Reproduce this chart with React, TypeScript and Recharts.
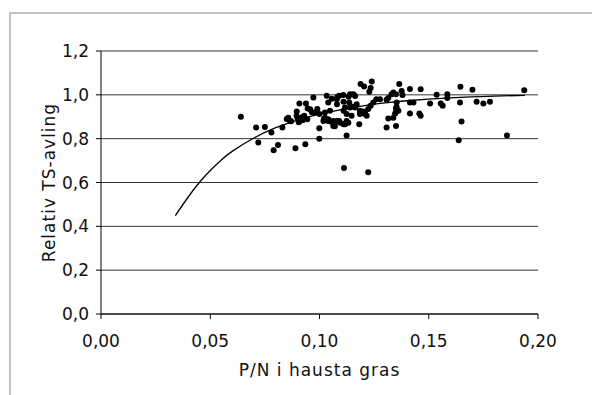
import React from 'react';
import {
  ComposedChart,
  Scatter,
  Line,
  XAxis,
  YAxis,
  CartesianGrid,
} from 'recharts';

// P/N ratio in harvested grass (x) and relative DM yield (y)
const pnRatio = [
  0.064, 0.071, 0.072, 0.075, 0.078, 0.079, 0.081, 0.083, 0.0857, 0.0865,
  0.085, 0.089, 0.0896, 0.087, 0.0908, 0.0938, 0.09, 0.091, 0.092, 0.0905,
  0.0935, 0.0944, 0.0946, 0.0957, 0.0972, 0.098, 0.0999, 0.0999, 0.1, 0.093,
  0.1018, 0.102, 0.1025, 0.1033, 0.104, 0.104, 0.1048, 0.105, 0.1056, 0.1063,
  0.107, 0.1079, 0.108, 0.1082, 0.109, 0.109, 0.1094, 0.1109, 0.111, 0.111,
  0.111, 0.1112, 0.1124, 0.1124, 0.1133, 0.1136, 0.1147, 0.1147, 0.1155, 0.117,
  0.1182, 0.1185, 0.1188, 0.1204, 0.1208, 0.1216, 0.1223, 0.1223, 0.1228, 0.1234,
  0.1234, 0.1239, 0.1246, 0.1079, 0.114, 0.1163, 0.1117, 0.114, 0.1163, 0.1063,
  0.1117, 0.1132, 0.1124, 0.1185, 0.12, 0.126, 0.1277, 0.1307, 0.1315, 0.133,
  0.1338, 0.135, 0.1338, 0.1315, 0.1307, 0.1353, 0.1361, 0.1346, 0.135, 0.1365,
  0.1376, 0.135, 0.138, 0.1353, 0.135, 0.1414, 0.1414, 0.143, 0.1414, 0.1457,
  0.1463, 0.1463, 0.1506, 0.1536, 0.1555, 0.1564, 0.1585, 0.1585, 0.1645, 0.1643,
  0.165, 0.1637, 0.17, 0.1719, 0.175, 0.178, 0.1858, 0.1937, 0.1208, 0.0915,
  0.0925, 0.0895, 0.0965, 0.099, 0.1025, 0.104,
];

const relYield = [
  0.9, 0.851, 0.783, 0.853, 0.828, 0.747, 0.771, 0.851, 0.896, 0.881,
  0.89, 0.756, 0.924, 0.88, 0.961, 0.961, 0.893, 0.881, 0.898, 0.875,
  0.774, 0.889, 0.938, 0.934, 0.988, 0.919, 0.8, 0.847, 0.912, 0.905,
  0.881, 0.89, 0.896, 0.996, 0.889, 0.881, 0.927, 0.878, 0.982, 0.858,
  0.857, 0.881, 0.957, 0.991, 0.996, 0.881, 0.873, 0.999, 0.968, 0.927,
  0.866, 0.666, 0.815, 0.881, 0.991, 0.965, 0.947, 0.904, 1.003, 0.957,
  0.866, 0.927, 1.049, 1.038, 0.919, 0.904, 0.935, 0.647, 1.014, 1.031,
  0.95, 1.061, 0.965, 0.98, 1.003, 0.995, 0.942, 0.942, 0.942, 0.881,
  0.866, 0.873, 0.912, 0.912, 0.924, 0.98, 0.98, 0.977, 0.985, 1.003,
  1.011, 0.922, 0.896, 0.892, 0.851, 0.945, 0.927, 0.915, 0.858, 1.049,
  1.018, 1.003, 0.999, 0.965, 0.939, 1.027, 0.965, 0.965, 0.915, 0.915,
  0.904, 1.026, 0.961, 1.0, 0.961, 0.95, 1.003, 0.985, 1.037, 0.965,
  0.878, 0.793, 1.023, 0.968, 0.961, 0.968, 0.815, 1.021, 0.912, 0.89,
  0.885, 0.905, 0.92, 0.935, 0.919, 0.965,
];

// fitted curve
const curvePn = [0.034, 0.04, 0.045, 0.05, 0.055, 0.06, 0.07, 0.08, 0.09, 0.1, 0.11, 0.12, 0.13, 0.14, 0.16, 0.18, 0.194];
const curveYield = [0.449, 0.535, 0.6, 0.655, 0.702, 0.742, 0.803, 0.85, 0.885, 0.912, 0.933, 0.95, 0.963, 0.973, 0.986, 0.994, 0.998];

const xTicks = [0, 0.05, 0.1, 0.15, 0.2];
const yTicks = [0, 0.2, 0.4, 0.6, 0.8, 1.0, 1.2];

const points = pnRatio.map((x, i) => ({ x, y: relYield[i] }));
const curve = curvePn.map((x, i) => ({ x, y: curveYield[i] }));

const FONT = '"DejaVu Sans", Verdana, sans-serif';
const fmt = (v: number, d: number) => v.toFixed(d).replace('.', ',');

const Dot = (props: any) => <circle cx={props.cx} cy={props.cy} r={3} fill="#000" />;

export default function App() {
  return (
    <div style={{ position: 'absolute', left: 0, top: 0, width: 592, height: 395, overflow: 'hidden', background: '#fff' }}>
      <div
        style={{
          position: 'absolute',
          left: 9,
          top: 12,
          width: 600,
          height: 400,
          borderLeft: '2px solid #c4c4c4',
          borderTop: '2px solid #c4c4c4',
        }}
      />
      <div style={{ position: 'absolute', left: 0, top: 0 }}>
        <ComposedChart width={592} height={395} margin={{ top: 51, right: 54, bottom: 0, left: 0 }}>
          <CartesianGrid vertical={false} stroke="#333" />
          <XAxis
            type="number"
            dataKey="x"
            domain={[0, 0.2]}
            ticks={xTicks}
            height={81}
            tickSize={5}
            tickMargin={16}
            tickFormatter={(v) => fmt(v, 2)}
            stroke="#000"
            tick={{ fill: '#111', fontSize: 17, fontFamily: FONT }}
            label={{
              value: 'P/N i hausta gras',
              position: 'center',
              dy: 15,
              fill: '#111',
              fontSize: 17,
              fontFamily: FONT,
              letterSpacing: 1,
            }}
          />
          <YAxis
            type="number"
            domain={[0, 1.2]}
            ticks={yTicks}
            width={101}
            tickSize={5}
            tickMargin={7}
            tickFormatter={(v) => fmt(v, 1)}
            stroke="#000"
            tick={{ fill: '#111', fontSize: 17, fontFamily: FONT }}
            label={{
              value: 'Relativ TS-avling',
              angle: -90,
              position: 'center',
              dx: -2,
              fill: '#111',
              fontSize: 17,
              fontFamily: FONT,
              letterSpacing: 1,
            }}
          />
          <Scatter data={points} dataKey="y" shape={Dot} isAnimationActive={false} />
          <Line
            data={curve}
            dataKey="y"
            type="natural"
            stroke="#000"
            strokeWidth={1.3}
            dot={false}
            activeDot={false}
            isAnimationActive={false}
          />
        </ComposedChart>
      </div>
    </div>
  );
}
